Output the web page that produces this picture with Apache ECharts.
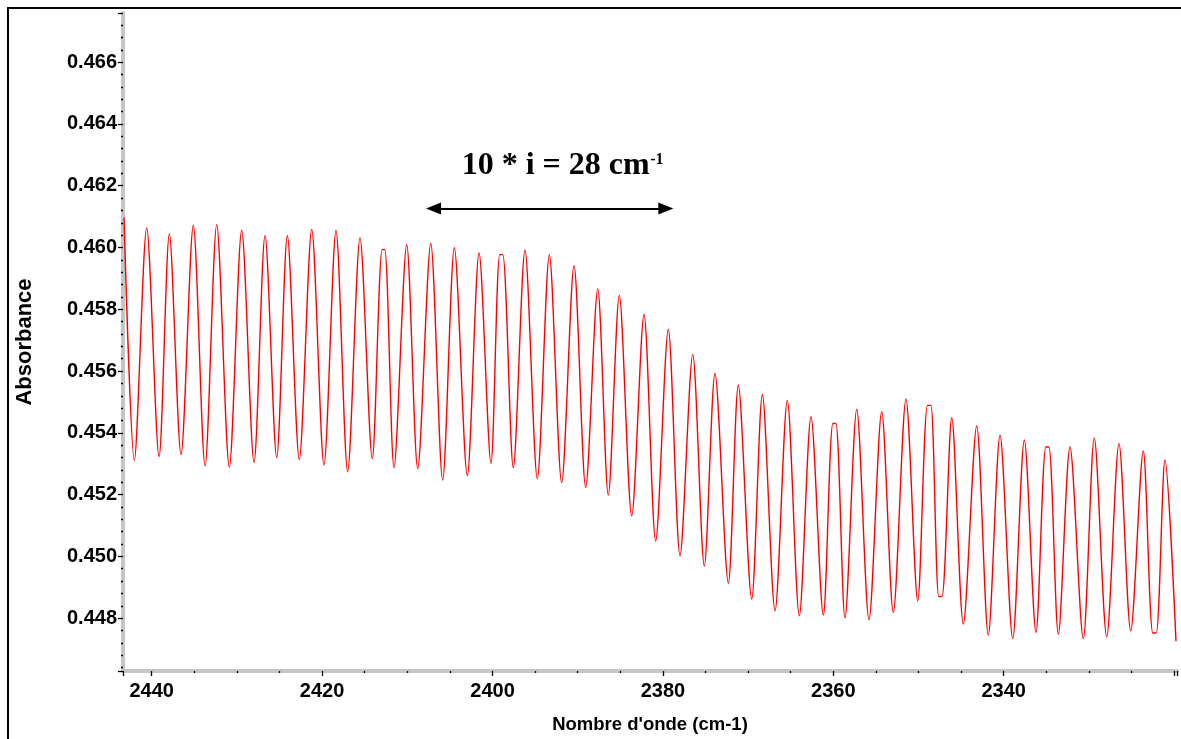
<!DOCTYPE html>
<html>
<head>
<meta charset="utf-8">
<script src="https://cdn.jsdelivr.net/npm/echarts@6/dist/echarts.min.js"></script>
<style>
html,body{margin:0;padding:0;background:#fff;}
#c{width:1181px;height:739px;}
</style>
</head>
<body>
<div id="c"></div>
<script>
// Spectrum: alternating troughs / peaks (flat tops doubled)
const wavenumber = [
  2443.25, 2442.04, 2440.59, 2439.14, 2437.93, 2436.56, 2435.12, 2433.74, 2432.37, 2430.89,
  2429.44, 2427.99, 2426.70, 2425.33, 2424.08, 2422.68, 2421.22, 2419.78, 2418.37, 2417.00,
  2415.55, 2414.11, 2412.95, 2412.65, 2411.56, 2410.07, 2408.78, 2407.25, 2405.85, 2404.48,
  2402.96, 2401.58, 2400.18, 2399.15, 2398.80, 2397.56, 2396.19, 2394.74, 2393.33, 2391.88,
  2390.43, 2389.06, 2387.65, 2386.41, 2385.12, 2383.66, 2382.22, 2380.85, 2379.37, 2377.99,
  2376.50, 2375.14, 2373.89, 2372.32, 2371.15, 2369.58, 2368.33, 2366.84, 2365.40, 2363.99,
  2362.62, 2361.17, 2360.05, 2359.70, 2358.63, 2357.25, 2355.81, 2354.32, 2352.96, 2351.47,
  2350.09, 2348.95, 2348.55, 2347.62, 2347.25, 2346.10, 2344.74, 2343.17, 2341.81, 2340.43,
  2338.94, 2337.58, 2336.21, 2335.05, 2334.70, 2333.59, 2332.22, 2330.66, 2329.37, 2327.91,
  2326.47, 2325.09, 2323.62, 2322.50, 2322.10, 2321.07, 2319.78
];
const absorbance = [
  0.46097, 0.45312, 0.46063, 0.45323, 0.46044, 0.45330, 0.46071, 0.45293, 0.46074, 0.45289,
  0.46056, 0.45304, 0.46039, 0.45320, 0.46038, 0.45314, 0.46058, 0.45296, 0.46055, 0.45274,
  0.46031, 0.45316, 0.45993, 0.45993, 0.45287, 0.46009, 0.45284, 0.46013, 0.45247, 0.45999,
  0.45262, 0.45982, 0.45301, 0.45977, 0.45977, 0.45287, 0.45991, 0.45252, 0.45977, 0.45239,
  0.45941, 0.45223, 0.45866, 0.45199, 0.45845, 0.45131, 0.45783, 0.45050, 0.45735, 0.45002,
  0.45654, 0.44969, 0.45592, 0.44913, 0.45554, 0.44862, 0.45524, 0.44824, 0.45505, 0.44808,
  0.45452, 0.44810, 0.45430, 0.45430, 0.44800, 0.45476, 0.44795, 0.45468, 0.44819, 0.45510,
  0.44856, 0.45489, 0.45489, 0.44870, 0.44870, 0.45449, 0.44781, 0.45422, 0.44745, 0.45392,
  0.44734, 0.45377, 0.44754, 0.45354, 0.45354, 0.44748, 0.45354, 0.44734, 0.45383, 0.44740,
  0.45365, 0.44759, 0.45341, 0.44752, 0.44752, 0.45312, 0.44725
];
const xTickLabels = [2440, 2420, 2400, 2380, 2360, 2340];
const yTickLabels = [0.448, 0.450, 0.452, 0.454, 0.456, 0.458, 0.460, 0.462, 0.464, 0.466];
const xRange = [2319.66, 2443.37];
const yRange = [0.44629, 0.46759];
const xAxisName = "Nombre d'onde (cm-1)";
const yAxisName = "Absorbance";
const arrowSpan = [2406.92, 2379.66];
const arrowLevel = 0.46126;
const annotationText = "10 * i = 28 cm";
const annotationSup = "-1";
const annotationAt = [2403.62, 0.46265];
const annotationSupAt = [2381.5, 0.46284];

const chart = echarts.init(document.getElementById('c'), null, {renderer: 'canvas'});
const seriesData = wavenumber.map((w, i) => [w, absorbance[i]]);
const axisGray = '#c6c6c6';
const labelFont = {fontFamily: 'Liberation Sans, Arial, sans-serif', fontWeight: 'bold', color: '#000'};

chart.setOption({
  animation: false,
  backgroundColor: '#fff',
  grid: {left: 123, right: 4, top: 13, bottom: 67},
  xAxis: {
    type: 'value', inverse: true, min: xRange[0], max: xRange[1],
    minInterval: 20, maxInterval: 20,
    name: xAxisName, nameLocation: 'middle', nameGap: 44,
    nameTextStyle: Object.assign({fontSize: 18.5}, labelFont),
    axisLine: {show: true, onZero: false, lineStyle: {color: axisGray, width: 4}},
    axisTick: {show: true, length: 5, lineStyle: {color: '#000', width: 1.3}},
    minorTick: {show: true, splitNumber: 4, length: 2, lineStyle: {color: '#000', width: 1.3}},
    splitLine: {show: false},
    axisLabel: Object.assign({
      fontSize: 20, margin: 10, showMinLabel: false, showMaxLabel: false,
      formatter: v => xTickLabels.some(t => Math.abs(t - v) < 1e-6) ? String(Math.round(v)) : ''
    }, labelFont)
  },
  yAxis: {
    type: 'value', min: yRange[0], max: yRange[1],
    minInterval: 0.002, maxInterval: 0.002,
    name: yAxisName, nameLocation: 'middle', nameGap: 87, nameRotate: 90,
    nameTextStyle: Object.assign({fontSize: 22}, labelFont),
    axisLine: {show: true, onZero: false, lineStyle: {color: axisGray, width: 4}},
    axisTick: {show: true, length: 5, lineStyle: {color: '#000', width: 1.3}},
    minorTick: {show: true, splitNumber: 5, length: 2, lineStyle: {color: '#000', width: 1.3}},
    splitLine: {show: false},
    axisLabel: Object.assign({
      fontSize: 20, margin: 6, showMinLabel: false, showMaxLabel: false,
      formatter: v => yTickLabels.some(t => Math.abs(t - v) < 1e-7) ? v.toFixed(3) : ''
    }, labelFont)
  },
  series: [{
    type: 'line',
    data: seriesData,
    showSymbol: false,
    smooth: 0.3,
    lineStyle: {color: '#ff0000', width: 1.4},
    emphasis: {disabled: true},
    markLine: {
      silent: true,
      symbol: ['triangle', 'triangle'],
      symbolSize: [12, 15],
      label: {show: false},
      emphasis: {disabled: true},
      lineStyle: {color: '#000', width: 2, type: 'solid'},
      itemStyle: {color: '#000'},
      data: [[{coord: [arrowSpan[0], arrowLevel]}, {coord: [arrowSpan[1], arrowLevel]}]]
    }
  }]
});

const p1 = chart.convertToPixel({gridIndex: 0}, annotationAt);
const p2 = chart.convertToPixel({gridIndex: 0}, annotationSupAt);
chart.setOption({
  graphic: [
    {type: 'rect', silent: true, shape: {x: 8, y: 8, width: 1400, height: 1000},
     style: {fill: 'none', stroke: '#000', lineWidth: 2}},
    {type: 'text', silent: true, x: p1[0], y: p1[1],
     style: {text: annotationText, fontSize: 32, fontFamily: 'Liberation Serif, Times New Roman, serif',
             fontWeight: 'bold', fill: '#000', textAlign: 'left', textVerticalAlign: 'middle'}},
    {type: 'text', silent: true, x: p2[0], y: p2[1],
     style: {text: annotationSup, fontSize: 16, fontFamily: 'Liberation Serif, Times New Roman, serif',
             fontWeight: 'bold', fill: '#000', textAlign: 'left', textVerticalAlign: 'middle'}}
  ]
});
</script>
</body>
</html>
